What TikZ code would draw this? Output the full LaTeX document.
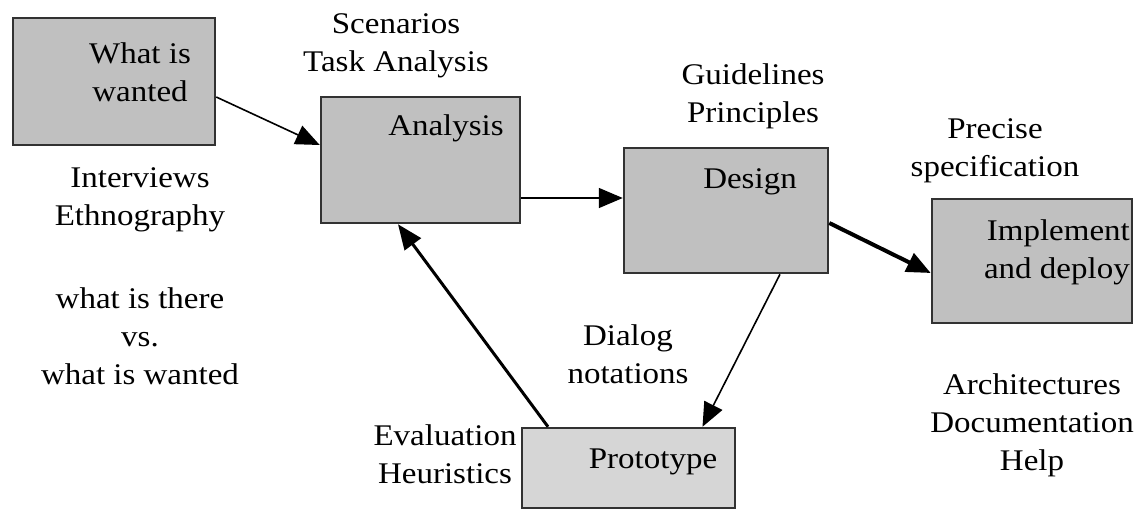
\documentclass[tikz,border=0pt]{standalone}
\usepackage{fontspec}
\setmainfont{Liberation Serif}[FakeStretch=1.1]
\usetikzlibrary{arrows.meta,calc}
\definecolor{boxfill}{RGB}{192,192,192}
\definecolor{protofill}{RGB}{214,214,214}
\definecolor{edge}{RGB}{50,50,50}
\tikzset{
  box/.style={draw=edge,line width=2.5pt,fill=boxfill,inner sep=0pt},
  lbl/.style={inner sep=0pt,align=center,font=\fontsize{30}{38}\selectfont},
  conn/.style={line width=1.6pt,-{Triangle[length=24pt,width=20pt]}},
  thickconn/.style={line width=4pt,-{Triangle[length=24pt,width=20pt]}},
  midconn/.style={line width=3pt,-{Triangle[length=25pt,width=20pt]}}
}
\begin{document}
\begin{tikzpicture}[x=1pt,y=-1pt]
\useasboundingbox[fill=white] (0,0) rectangle (1144,512);
% boxes
\node[box,minimum width=202pt,minimum height=127pt] (ww) at (114,81.5) {};
\node[box,minimum width=199pt,minimum height=126pt] (an) at (420.5,160) {};
\node[box,minimum width=204pt,minimum height=125pt] (de) at (726,210.5) {};
\node[box,minimum width=200pt,minimum height=124pt] (im) at (1032,261) {};
\node[box,fill=protofill,minimum width=213pt,minimum height=80pt] (pr) at (628.5,468) {};
% box texts
\node[lbl] (wwt) at (140,72) {What is\\wanted};
\node[lbl] (ant) at (446,128) {Analysis};
\node[lbl] (det) at (750,182) {Design};
\node[lbl,align=right,anchor=east] (imt) at (1130,252) {Implement\\and deploy};
\node[lbl] (prt) at (653,462) {Prototype};
% annotations
\node[lbl] (scen) at (396,46) {Scenarios\\Task Analysis};
\node[lbl] (intv) at (140,200) {Interviews\\Ethnography};
\node[lbl] (what) at (140,336) {what is there\\vs.\\what is wanted};
\node[lbl] (guid) at (753,96) {Guidelines\\Principles};
\node[lbl] (prec) at (995,151) {Precise\\specification};
\node[lbl] (dial) at (628,354) {Dialog\\notations};
\node[lbl] (eval) at (445,454) {Evaluation\\Heuristics};
\node[lbl] (arch) at (1032,425) {Architectures\\Documentation\\Help};
% connectors
\draw[conn] ([yshift=-15.5pt]ww.east) -- ([yshift=15pt]an.west);
\draw[conn] ([yshift=-38pt]an.east) -- ([yshift=-38pt]an.east -| de.west);
\draw[thickconn] ([yshift=-12.5pt]de.east) -- ([yshift=-12pt]im.west);
\draw[conn] ([xshift=54pt]de.south) -- ([xshift=74pt]pr.north);
\draw[midconn] ([xshift=-80.5pt]pr.north) -- ([xshift=-22.5pt]an.south);
\end{tikzpicture}
\end{document}
